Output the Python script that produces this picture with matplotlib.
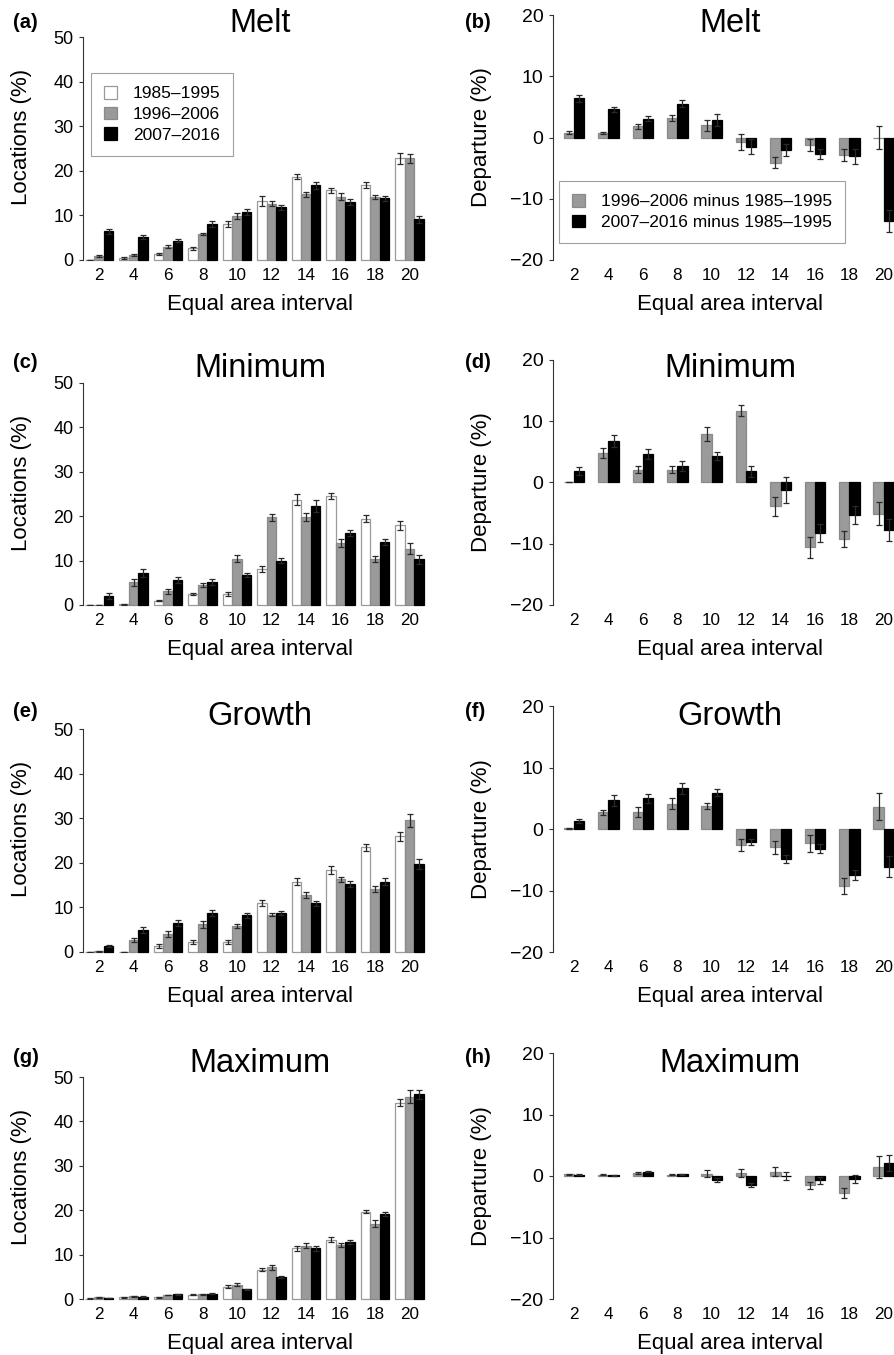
import matplotlib
matplotlib.use("Agg")
import matplotlib.pyplot as plt
from matplotlib.patches import Patch
import numpy as np

plt.rcParams['font.family'] = ['Liberation Sans', 'DejaVu Sans']

# 1. Данные
intervals = [2, 4, 6, 8, 10, 12, 14, 16, 18, 20]
periods = ["1985–1995", "1996–2006", "2007–2016"]
diff_labels = ["1996–2006 minus 1985–1995", "2007–2016 minus 1985–1995"]
titles = ["Melt", "Minimum", "Growth", "Maximum"]
left_tags = ["(a)", "(c)", "(e)", "(g)"]
right_tags = ["(b)", "(d)", "(f)", "(h)"]

# Locations (%) по периодам, и полуширина планки ошибок
melt_p1 = [0.0, 0.5, 1.3, 2.6, 8.0, 13.2, 18.7, 15.6, 16.9, 22.8]
melt_p2 = [0.9, 1.1, 3.0, 5.8, 9.9, 12.6, 14.7, 14.2, 14.1, 22.8]
melt_p3 = [6.4, 5.1, 4.3, 8.1, 10.8, 11.8, 16.8, 13.0, 13.8, 9.1]
melt_e1 = [0.05, 0.2, 0.2, 0.3, 0.7, 1.2, 0.6, 0.6, 0.7, 1.3]
melt_e2 = [0.15, 0.15, 0.3, 0.3, 0.6, 0.6, 0.6, 0.8, 0.5, 1.0]
melt_e3 = [0.6, 0.4, 0.3, 0.6, 0.6, 0.5, 0.8, 0.6, 0.6, 0.8]

min_p1 = [0.0, 0.2, 1.0, 2.5, 2.5, 8.1, 23.7, 24.6, 19.4, 18.0]
min_p2 = [0.0, 5.1, 3.1, 4.5, 10.4, 19.8, 19.8, 13.9, 10.3, 12.7]
min_p3 = [2.0, 7.1, 5.6, 5.1, 6.7, 10.0, 22.3, 16.3, 14.2, 10.3]
min_e1 = [0.0, 0.1, 0.2, 0.3, 0.5, 0.6, 1.2, 0.7, 0.8, 1.0]
min_e2 = [0.0, 0.8, 0.6, 0.4, 0.8, 0.8, 0.9, 0.9, 0.7, 1.3]
min_e3 = [0.6, 0.9, 0.7, 0.7, 0.4, 0.6, 1.3, 0.7, 0.7, 1.0]

growth_p1 = [0.0, 0.0, 1.4, 2.2, 2.2, 11.0, 15.8, 18.4, 23.5, 25.9]
growth_p2 = [0.15, 2.7, 4.1, 6.2, 5.8, 8.4, 12.8, 16.3, 14.1, 29.5]
growth_p3 = [1.4, 4.9, 6.5, 8.8, 8.2, 8.8, 10.9, 15.2, 15.8, 19.7]
growth_e1 = [0.0, 0.0, 0.4, 0.4, 0.4, 0.6, 0.8, 0.8, 0.8, 1.1]
growth_e2 = [0.05, 0.4, 0.7, 0.8, 0.4, 0.4, 0.6, 0.6, 0.6, 1.5]
growth_e3 = [0.2, 0.7, 0.6, 0.7, 0.5, 0.5, 0.6, 0.7, 0.8, 1.2]

max_p1 = [0.1, 0.4, 0.4, 1.0, 2.8, 6.6, 11.4, 13.4, 19.7, 44.2]
max_p2 = [0.4, 0.6, 0.9, 1.1, 3.2, 7.1, 12.0, 12.1, 17.0, 45.6]
max_p3 = [0.25, 0.5, 1.1, 1.2, 2.2, 5.0, 11.4, 12.8, 19.2, 46.1]
max_e1 = [0.05, 0.1, 0.1, 0.1, 0.3, 0.4, 0.5, 0.5, 0.4, 0.8]
max_e2 = [0.1, 0.1, 0.1, 0.1, 0.3, 0.6, 0.6, 0.5, 0.7, 1.5]
max_e3 = [0.05, 0.1, 0.1, 0.1, 0.15, 0.2, 0.5, 0.4, 0.5, 1.0]

# Departure (%) относительно 1985-1995
melt_d2 = [0.8, 0.7, 1.8, 3.2, 2.0, -0.8, -4.1, -1.2, -2.9, 0.0]
melt_d3 = [6.4, 4.6, 3.1, 5.5, 2.9, -1.5, -2.0, -2.7, -3.1, -13.6]
melt_de2 = [0.2, 0.2, 0.4, 0.5, 0.9, 1.3, 0.9, 1.0, 1.0, 1.8]
melt_de3 = [0.6, 0.4, 0.4, 0.6, 1.0, 1.2, 1.0, 0.8, 1.2, 1.8]

min_d2 = [0.0, 4.8, 2.1, 2.1, 7.9, 11.7, -3.9, -10.6, -9.2, -5.1]
min_d3 = [1.9, 6.8, 4.7, 2.7, 4.3, 1.8, -1.2, -8.2, -5.3, -7.8]
min_de2 = [0.0, 0.8, 0.6, 0.6, 1.1, 0.9, 1.6, 1.7, 1.3, 1.9]
min_de3 = [0.6, 1.0, 0.8, 0.8, 0.7, 0.9, 2.1, 1.5, 1.4, 1.8]

growth_d2 = [0.1, 2.7, 2.7, 4.1, 3.7, -2.6, -3.0, -2.3, -9.3, 3.6]
growth_d3 = [1.3, 4.7, 5.0, 6.6, 5.9, -2.1, -4.9, -3.2, -7.5, -6.1]
growth_de2 = [0.05, 0.4, 0.8, 0.9, 0.5, 0.9, 1.1, 1.4, 1.3, 2.2]
growth_de3 = [0.3, 0.9, 0.7, 0.9, 0.6, 0.5, 0.7, 0.7, 0.8, 1.7]

max_d2 = [0.3, 0.2, 0.5, 0.2, 0.4, 0.5, 0.7, -1.5, -2.8, 1.5]
max_d3 = [0.2, 0.1, 0.7, 0.3, -0.6, -1.5, 0.0, -0.7, -0.5, 2.1]
max_de2 = [0.1, 0.1, 0.2, 0.1, 0.5, 0.7, 0.7, 0.6, 0.8, 1.8]
max_de3 = [0.1, 0.1, 0.1, 0.1, 0.3, 0.3, 0.7, 0.6, 0.6, 1.3]

locations = [
    [(melt_p1, melt_e1), (melt_p2, melt_e2), (melt_p3, melt_e3)],
    [(min_p1, min_e1), (min_p2, min_e2), (min_p3, min_e3)],
    [(growth_p1, growth_e1), (growth_p2, growth_e2), (growth_p3, growth_e3)],
    [(max_p1, max_e1), (max_p2, max_e2), (max_p3, max_e3)],
]
departures = [
    [(melt_d2, melt_de2), (melt_d3, melt_de3)],
    [(min_d2, min_de2), (min_d3, min_de3)],
    [(growth_d2, growth_de2), (growth_d3, growth_de3)],
    [(max_d2, max_de2), (max_d3, max_de3)],
]

# 2. Стили
fills = ["white", "#9a9a9a", "black"]
edges = ["#9a9a9a", "#8a8a8a", "black"]
err_color = "#2a2a2a"

W, H = 894, 1355
row_bottom = [260, 605, 952, 1299]
left_top = [37, 383, 729, 1077]
right_top = [15, 360, 706, 1053]
title_base = [32, 377, 725, 1072]
tag_base = [28, 368, 717, 1063]


def rect(x0, top, w, bottom):
    return [x0 / W, 1 - bottom / H, w / W, (bottom - top) / H]


def style_axis(ax, ylim, yticks, ysize):
    ax.set_ylim(*ylim)
    ax.set_yticks(yticks)
    ax.set_yticklabels([("\u2212" + str(-t)) if t < 0 else str(t) for t in yticks])
    ax.set_xticks(intervals)
    ax.set_xticklabels([str(i) for i in intervals])
    for s in ["top", "right", "bottom"]:
        ax.spines[s].set_visible(False)
    ax.spines["left"].set_color("#333333")
    ax.spines["left"].set_linewidth(0.8)
    ax.tick_params(axis="y", length=3, width=0.8, color="#333333", labelsize=ysize, pad=4)
    ax.tick_params(axis="x", length=0, labelsize=12.3, pad=6)
    ax.set_facecolor("none")


fig = plt.figure(figsize=(W / 100, H / 100), dpi=100)
x = np.array(intervals, dtype=float)

# 3. Строим панели
for r in range(4):
    # левая панель: Locations
    h_left = row_bottom[r] - left_top[r]
    ax = fig.add_axes(rect(83, left_top[r], 344, row_bottom[r]))
    w = 0.55
    for k, (vals, errs) in enumerate(locations[r]):
        ax.bar(x + (k - 1) * w, vals, width=w, color=fills[k], edgecolor=edges[k],
               linewidth=0.9, clip_on=False, zorder=2)
        ax.errorbar(x + (k - 1) * w, vals, yerr=errs, fmt="none", ecolor=err_color,
                    elinewidth=0.9, capsize=2.2, capthick=0.9, zorder=3)
    ax.set_xlim(1.07, 21.0)
    style_axis(ax, (0, 50), [0, 10, 20, 30, 40, 50], 13)
    ax.set_ylabel("Locations (%)", fontsize=16)
    ax.yaxis.set_label_coords(-0.148, 0.55)
    ax.set_xlabel("Equal area interval", fontsize=16)
    ax.xaxis.set_label_coords((260 - 83) / 344, -34 / h_left)
    fig.text(260 / W, 1 - title_base[r] / H, titles[r], fontsize=23.5, ha="center", va="baseline")
    fig.text(13 / W, 1 - tag_base[r] / H, left_tags[r], fontsize=14.5, fontweight="bold",
             ha="left", va="baseline")
    if r == 0:
        handles = [Patch(facecolor=fills[k], edgecolor=edges[k], linewidth=0.9) for k in range(3)]
        leg = ax.legend(handles, periods, loc="upper left", bbox_to_anchor=(91 / W, 1 - 73 / H),
                        bbox_transform=fig.transFigure, borderaxespad=0, fontsize=12.5,
                        handlelength=0.75, handleheight=0.75, handletextpad=0.9,
                        labelspacing=0.3, borderpad=0.75, fancybox=False)
        leg.get_frame().set_edgecolor("#888888")
        leg.get_frame().set_linewidth(0.8)

    # правая панель: Departure
    h_right = row_bottom[r] - right_top[r]
    ax2 = fig.add_axes(rect(553, right_top[r], 348, row_bottom[r]))
    w2 = 0.6
    for k, (vals, errs) in enumerate(departures[r]):
        ax2.bar(x + (k - 0.5) * w2, vals, width=w2, color=fills[k + 1], edgecolor=edges[k + 1],
                linewidth=0.9, zorder=2)
        ax2.errorbar(x + (k - 0.5) * w2, vals, yerr=errs, fmt="none", ecolor=err_color,
                     elinewidth=0.9, capsize=2.2, capthick=0.9, zorder=3)
    ax2.set_xlim(0.78, 21.0)
    style_axis(ax2, (-20, 20), [-20, -10, 0, 10, 20], 14)
    ax2.set_ylabel("Departure (%)", fontsize=16)
    ax2.yaxis.set_label_coords(-0.175, 0.5)
    ax2.set_xlabel("Equal area interval", fontsize=16)
    ax2.xaxis.set_label_coords((730 - 553) / 348, -34 / h_right)
    fig.text(730 / W, 1 - title_base[r] / H, titles[r], fontsize=23.5, ha="center", va="baseline")
    fig.text(465 / W, 1 - tag_base[r] / H, right_tags[r], fontsize=14.5, fontweight="bold",
             ha="left", va="baseline")
    if r == 0:
        handles = [Patch(facecolor=fills[k + 1], edgecolor=edges[k + 1], linewidth=0.9) for k in range(2)]
        leg = ax2.legend(handles, diff_labels, loc="upper left", bbox_to_anchor=(559 / W, 1 - 181 / H),
                         bbox_transform=fig.transFigure, borderaxespad=0, fontsize=12.5,
                         handlelength=0.75, handleheight=0.75, handletextpad=0.9,
                         labelspacing=0.3, borderpad=0.75, fancybox=False)
        leg.get_frame().set_edgecolor("#888888")
        leg.get_frame().set_linewidth(0.8)

# 4. Сохраняем
fig.savefig("out.png", dpi=100)
